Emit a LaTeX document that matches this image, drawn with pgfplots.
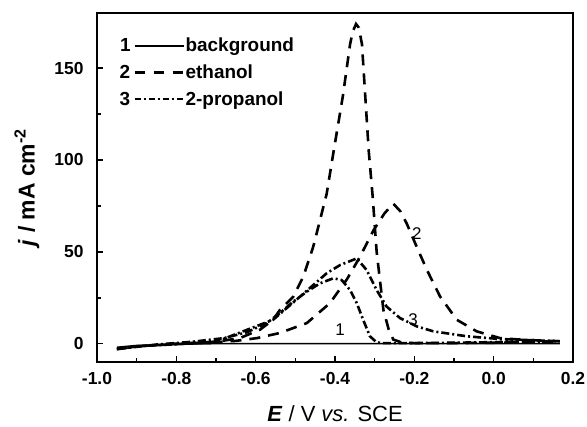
\documentclass[border=0pt]{standalone}
\usepackage{fontspec}
\setmainfont{Liberation Sans}
\usepackage{pgfplots}
\pgfplotsset{compat=1.18}

\pgfplotstableread{
E j
-0.95 -3
-0.90 -1.5
-0.85 -0.8
-0.80 -0.3
-0.75 0.2
-0.70 0.8
-0.65 1.5
-0.597 3
-0.539 5.8
-0.471 11.2
-0.413 22
-0.370 35
-0.337 47.3
-0.303 61.7
-0.275 71
-0.253 76.2
-0.235 72
-0.219 65.3
-0.194 52.7
-0.168 40
-0.135 25.6
-0.093 13
-0.043 6.7
0.016 3
0.080 2
0.167 1.3
0.100 0.8
0.000 0.5
-0.100 0.3
-0.200 0.3
-0.230 0.5
-0.253 2.2
-0.265 8
-0.278 18.4
-0.295 50
-0.305 80
-0.315 105
-0.332 163
-0.340 172
-0.347 174
-0.355 170
-0.362 163
-0.380 135
-0.404 104
-0.421 81.6
-0.438 67
-0.455 52.7
-0.480 36.4
-0.505 25.6
-0.540 18
-0.556 13
-0.589 7.6
-0.640 3
-0.700 1
-0.800 0
-0.900 -1.5
-0.950 -3
}\ethanol

\pgfplotstableread{
E j
-0.95 -3
-0.90 -1.5
-0.80 -0.3
-0.70 1
-0.640 6
-0.556 13
-0.488 25.6
-0.421 38.3
-0.387 42.8
-0.345 46.4
-0.320 40
-0.295 29.2
-0.270 20.2
-0.236 13.9
-0.194 9.4
-0.152 6.7
-0.068 4
0.016 2.5
0.167 1.3
0.100 1
0.000 0.8
-0.100 0.5
-0.200 0.3
-0.280 0.3
-0.295 0.7
-0.312 4
-0.329 13
-0.345 22
-0.362 29.2
-0.383 34.6
-0.404 35.6
-0.438 32.8
-0.471 28.3
-0.505 22.9
-0.539 16.6
-0.572 11.2
-0.623 6.1
-0.680 3
-0.760 1
-0.850 -0.5
-0.950 -3
}\propanol

\pgfplotstableread{
E j
-0.95 -2
-0.90 -1
-0.80 -0.3
-0.70 0
0.167 0
}\background

\begin{document}
\begin{tikzpicture}
\begin{axis}[
  name=ax,
  scale only axis,
  width=476bp, height=349bp,
  xmin=-1.0, xmax=0.2,
  ymin=-10, ymax=180,
  xtick={-1.0,-0.8,...,0.21},
  minor x tick num=1,
  ytick={0,50,100,150},
  minor y tick num=1,
  xtick pos=bottom, ytick pos=left,
  tick align=inside,
  major tick length=6bp, minor tick length=4bp,
  every tick/.style={black, line width=1.6bp},
  axis line style={line width=2.2bp},
  /pgf/number format/assume math mode=true,
  xticklabel style={/pgf/number format/fixed, /pgf/number format/fixed zerofill,
    /pgf/number format/precision=1, yshift=-7bp},
  yticklabel style={xshift=-10bp},
  ticklabel style={font=\bfseries\fontsize{17.5}{19}\selectfont},
  xlabel={\textbf{\textit{E}} / V \textit{vs.} SCE},
  ylabel={\bfseries\textit{j} / mA cm\textsuperscript{-2}},
  xlabel style={font=\fontsize{22}{24}\selectfont, at={(axis description cs:0.5,-0.149)}, anchor=center},
  ylabel style={font=\fontsize{23}{25}\selectfont, at={(axis description cs:-0.147,0.5)}, anchor=center},
  legend style={draw=none, fill=none, at={(axis description cs:0.041,0.937)}, anchor=north west,
    font=\bfseries\fontsize{19}{21}\selectfont, row sep=9.5bp, nodes={inner sep=1bp}},
  legend cell align=left,
]
\addplot[black, line width=1.6bp,
  legend image code/.code={\node[anchor=east, inner sep=0pt, font=\bfseries\fontsize{19}{21}\selectfont] at (0bp,0bp) {1};
    \draw[black, line width=1.8bp] (3bp,0bp) -- (52bp,0bp);}]
  table[x=E, y=j] {\background};
\addlegendentry{background}
\addplot[black, line width=2.6bp, dash pattern=on 11bp off 8bp,
  legend image code/.code={\node[anchor=east, inner sep=0pt, font=\bfseries\fontsize{19}{21}\selectfont] at (0bp,0bp) {2};
    \draw[black, line width=2.2bp, dash pattern=on 10bp off 9bp] (3bp,0bp) -- (52bp,0bp);}]
  table[x=E, y=j] {\ethanol};
\addlegendentry{ethanol}
\addplot[black, line width=2.6bp, dash pattern=on 8bp off 3bp on 2bp off 3bp,
  legend image code/.code={\node[anchor=east, inner sep=0pt, font=\bfseries\fontsize{19}{21}\selectfont] at (0bp,0bp) {3};
    \draw[black, line width=2.2bp, dash pattern=on 6bp off 3bp on 2bp off 3bp] (3bp,0bp) -- (52bp,0bp);}]
  table[x=E, y=j] {\propanol};
\addlegendentry{2-propanol}
\node[font=\fontsize{17}{19}\selectfont] at (axis cs:-0.387,7.6) {1};
\node[font=\fontsize{17}{19}\selectfont] at (axis cs:-0.194,60) {2};
\node[font=\fontsize{17}{19}\selectfont] at (axis cs:-0.203,13) {3};
\end{axis}
\pgfresetboundingbox
\path[use as bounding box] ([xshift=-97bp,yshift=-65bp]ax.south west) rectangle ([xshift=14bp,yshift=13bp]ax.north east);
\end{tikzpicture}
\end{document}
